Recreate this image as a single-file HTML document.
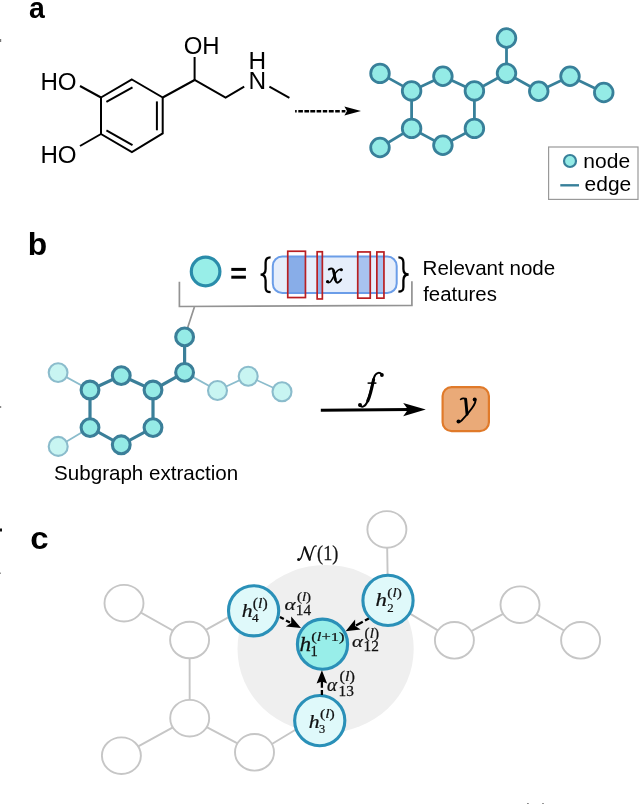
<!DOCTYPE html>
<html><head><meta charset="utf-8">
<style>
html,body{margin:0;padding:0;background:#fff;width:640px;height:804px;overflow:hidden}
svg{display:block;position:absolute;left:0;top:0;will-change:transform}
.sans{font-family:"Liberation Sans",sans-serif}
.serif{font-family:"Liberation Serif",serif}
</style></head><body>
<svg width="640" height="804" viewBox="0 0 640 804">
<defs>
<clipPath id="rr"><rect x="272.8" y="256.4" width="123.9" height="36.6" rx="9.5"/></clipPath>
</defs>
<!-- edge artifacts -->
<rect x="0" y="39" width="1.2" height="3" fill="#777"/>
<rect x="0" y="406" width="1.2" height="2" fill="#888"/>
<rect x="0" y="528.5" width="2" height="3" fill="#111"/>
<rect x="0" y="572.5" width="1" height="1.5" fill="#999"/>
<rect x="527" y="803" width="1.8" height="1" fill="#888"/>
<rect x="542" y="803" width="2" height="1" fill="#999"/>

<!-- ============ PANEL A ============ -->
<text id="m_la" transform="matrix(0.9176 0 0 0.9735 29.08 17.61)" class="sans" font-size="31" font-weight="bold">a</text>
<g stroke="#000" stroke-width="2" fill="none" stroke-linecap="butt">
  <polygon points="131.9,79.5 162.7,97.5 162.7,133.4 131.9,152 101,134 101,97.5"/>
  <line x1="106.4" y1="101.9" x2="132.5" y2="87.3"/>
  <line x1="156.9" y1="101.4" x2="156.9" y2="130.3"/>
  <line x1="106.4" y1="130.3" x2="132.5" y2="145.2"/>
  <line x1="80" y1="86" x2="101" y2="97.5"/>
  <line x1="80" y1="146" x2="101" y2="134"/>
  <polyline points="162.7,97.5 194.6,80 225.6,97.7 244.2,86.7"/>
  <line x1="194.6" y1="80" x2="194.6" y2="57"/>
  <line x1="269.4" y1="86.7" x2="289.4" y2="97.8"/>
</g>
<g class="sans" font-size="23" fill="#000">
  <text id="m_ho1" transform="matrix(1.0500 0 0 1.0765 40.40 89.88)">HO</text>
  <text id="m_ho2" transform="matrix(1.0500 0 0 1.0412 40.40 162.89)">HO</text>
  <text id="m_oh" transform="matrix(1.0406 0 0 1.03 183.76 53.6)">OH</text>
  <text id="m_nn" transform="matrix(1.0615 0 0 1.0235 248.41 89.39)">N</text>
  <text id="m_hh" transform="matrix(1.0615 0 0 1.0118 248.41 68.60)">H</text>
</g>
<!-- dashed arrow -->
<line x1="295.1" y1="111.3" x2="346" y2="111.3" stroke="#000" stroke-width="2.6" stroke-dasharray="1.6,1.6,4.6,1.5,4.7,1.2,4.9,1.4,4.6,1.6,4.4,1.6,4.9,1.5,4.6,1.9,3.7,1.9,3.7,2"/>
<path d="M361,111.1 L344.4,106.4 L347,111.1 L344.4,115.6 Z" fill="#000"/>

<!-- graph a -->
<g stroke="#38809a" stroke-width="2.8" fill="none">
  <path d="M380,73.4 L411.6,90.9 M411.6,90.9 L442.9,76.25 L474.4,90.9 L474.4,128.4 L442.9,145.25 L411.6,128.4 Z M411.6,128.4 L380,147.5 M474.4,90.9 L506.5,73.25 L506.5,38 M506.5,73.25 L538.75,91.25 L570,76.25 L603.75,92.5"/>
</g>
<g stroke="#38809a" stroke-width="2.8" fill="#94ebe6">
  <circle cx="380" cy="73.4" r="9.3"/>
  <circle cx="411.6" cy="90.9" r="9.3"/>
  <circle cx="442.9" cy="76.25" r="9.3"/>
  <circle cx="474.4" cy="90.9" r="9.3"/>
  <circle cx="474.4" cy="128.4" r="9.3"/>
  <circle cx="442.9" cy="145.25" r="9.3"/>
  <circle cx="411.6" cy="128.4" r="9.3"/>
  <circle cx="380" cy="147.5" r="9.3"/>
  <circle cx="506.5" cy="73.25" r="9.3"/>
  <circle cx="506.5" cy="38" r="9.3"/>
  <circle cx="538.75" cy="91.25" r="9.3"/>
  <circle cx="570" cy="76.25" r="9.3"/>
  <circle cx="603.75" cy="92.5" r="9.3"/>
</g>
<!-- legend -->
<rect x="548.6" y="147" width="89.4" height="52.4" fill="#fff" stroke="#999" stroke-width="1.2"/>
<circle cx="570" cy="161" r="6" fill="#94ebe6" stroke="#38809a" stroke-width="2.2"/>
<line x1="560.3" y1="185.3" x2="579" y2="185.3" stroke="#38809a" stroke-width="2.4"/>
<text id="m_node" transform="matrix(1.0250 0 0 0.9733 583.37 167.80)" class="sans" font-size="20.5">node</text>
<text id="m_edge" transform="matrix(1.0227 0 0 1.0211 584.58 190.81)" class="sans" font-size="20.5">edge</text>

<!-- ============ PANEL B ============ -->
<text id="m_lb2" transform="matrix(1.0250 0 0 1.0043 27.75 255.40)" class="sans" font-size="31" font-weight="bold">b</text>
<circle cx="205.6" cy="271.5" r="14.3" fill="#98eee8" stroke="#2a8caa" stroke-width="3.2"/>
<rect x="231.3" y="267.9" width="14.6" height="3" fill="#000"/><rect x="231.3" y="275.7" width="14.6" height="3" fill="#000"/>
<path id="m_lb" d="M270.6,257.4 C266.8,257.4 265.6,259 265.6,262.5 L265.6,269 C265.6,272.8 263.8,274.6 260.6,274.7 C263.8,274.8 265.6,276.6 265.6,280.5 L265.6,287.5 C265.6,291 266.8,292.2 270.6,292.2" fill="none" stroke="#000" stroke-width="2.3"/>
<rect x="272.8" y="256.4" width="123.9" height="36.6" rx="9.5" fill="#e6eefb"/>
<g clip-path="url(#rr)">
  <rect x="287.75" y="250" width="17.7" height="48" fill="#88ade8"/>
  <rect x="317.15" y="250" width="5.2" height="49" fill="#8fb3ea"/>
  <rect x="357.75" y="250" width="12.5" height="48" fill="#a8c3ef"/>
  <rect x="376.85" y="250" width="7.1" height="48" fill="#a9c4f0"/>
</g>
<rect x="272.8" y="256.4" width="123.9" height="36.6" rx="9.5" fill="none" stroke="#6b9de8" stroke-width="2"/>
<g fill="none" stroke="#b91f22" stroke-width="1.7">
  <rect x="287.75" y="251.25" width="17.7" height="46.3"/>
  <rect x="317.15" y="251.75" width="5.2" height="47.2"/>
  <rect x="357.75" y="251.95" width="12.5" height="46.2"/>
  <rect x="376.85" y="251.95" width="7.1" height="46.2"/>
</g>
<g id="m_x" fill="none" stroke="#000" stroke-linecap="round">
  <path d="M328.9,269.4 C330.6,268.2 332.6,267.9 333.4,269.8 C334.5,272.5 334.8,278 335.8,281.2 C336.6,283.4 339,283.2 341.1,279.5" stroke-width="2.1"/>
  <path d="M333.6,271 C334.3,274 334.6,277 335.3,279.5" stroke-width="2.8"/>
  <path d="M341.6,269.4 C339.6,268.8 337.4,270.4 335.6,272.9 C333.6,276.2 331.6,281.4 329.6,282.4 C328.6,282.9 327.6,282.6 327,282" stroke-width="1.5"/>
  <circle cx="341.4" cy="269.8" r="1.5" fill="#000" stroke="none"/>
  <circle cx="327.6" cy="281.5" r="1.6" fill="#000" stroke="none"/>
</g>
<path id="m_rb" d="M398.4,257.4 C402.2,257.4 403.4,259 403.4,262.5 L403.4,269 C403.4,272.8 405.2,274.4 408.6,274.5 C405.2,274.6 403.4,276.4 403.4,280.3 L403.4,287 C403.4,290.5 402.2,291.6 398.4,291.6" fill="none" stroke="#000" stroke-width="2.3"/>
<path d="M179.4,281.7 V306.5 L411.9,305.4 V281.2 M194.4,307 L184.6,337" fill="none" stroke="#939393" stroke-width="1.7"/>
<text id="m_rel" transform="matrix(1.0291 0 0 1.0333 422.56 275.44)" class="sans" font-size="20">Relevant node</text>
<text id="m_feat" transform="matrix(1.0208 0 0 0.9867 423.20 300.80)" class="sans" font-size="20">features</text>

<!-- graph b -->
<g stroke="#8bbccc" stroke-width="1.8" fill="none">
  <path d="M58.1,372.6 L90,390 M90,427.6 L58.2,446.4 M184.6,372.4 L217.5,390.5 L248.2,376.2 L282,391.8"/>
</g>
<g stroke="#8bbccc" stroke-width="2.1" fill="#c8f5f2">
  <circle cx="58.1" cy="372.6" r="9.4"/>
  <circle cx="58.2" cy="446.4" r="9.5"/>
  <circle cx="217.5" cy="390.5" r="9.5"/>
  <circle cx="248.2" cy="376.2" r="9.5"/>
  <circle cx="282" cy="391.8" r="9.5"/>
</g>
<g stroke="#3b7f99" stroke-width="3.2" fill="none">
  <path d="M90,390 L121.25,375.6 L153,390 L153,427.6 L121.25,444.8 L90,427.6 Z M153,390 L184.6,372.4 L184.6,336.9"/>
</g>
<g stroke="#3b7f99" stroke-width="3.1" fill="#95ebe6">
  <circle cx="90" cy="390" r="8.9"/>
  <circle cx="121.25" cy="375.6" r="8.9"/>
  <circle cx="153" cy="390" r="8.9"/>
  <circle cx="90" cy="427.6" r="8.9"/>
  <circle cx="121.25" cy="444.8" r="8.9"/>
  <circle cx="153" cy="427.6" r="8.9"/>
  <circle cx="184.6" cy="372.4" r="8.9"/>
  <circle cx="184.6" cy="336.9" r="8.9"/>
</g>
<text id="m_sub" transform="matrix(1.029 0 0 1 54.1 479.5)" class="sans" font-size="20">Subgraph extraction</text>
<!-- f arrow -->
<line x1="320.8" y1="410.2" x2="410" y2="409.5" stroke="#000" stroke-width="2.9"/>
<path d="M425.8,409.5 L403.2,402.9 L408,409.5 L403.2,416.3 Z" fill="#000"/>
<g id="m_f" fill="none" stroke="#000" stroke-linecap="round">
  <path d="M381.8,374.4 C379.4,371.6 375.6,372.6 374,377.6 C372,384.5 370,396 367,402.5 C365,406.6 362.2,407.8 359.8,405.6" stroke-width="2"/>
  <path d="M373.6,379.5 C372.2,386.5 370.4,395.5 367.8,400.8" stroke-width="3.1"/>
  <path d="M367.6,383.1 L376.4,383.1" stroke-width="1.5" stroke-linecap="butt"/>
  <circle cx="381.9" cy="375" r="1.9" fill="#000" stroke="none"/>
  <circle cx="360" cy="405" r="2" fill="#000" stroke="none"/>
</g>
<rect x="442.6" y="387.1" width="46.3" height="44.1" rx="9" fill="#eaaa78" stroke="#e07a2a" stroke-width="2.2"/>
<g id="m_y" fill="none" stroke="#000" stroke-linecap="round">
  <path d="M460.6,399.4 C462.2,398.3 464.6,397.8 465.6,399.3" stroke-width="1.6"/>
  <path d="M465.6,399.2 C466.2,403.5 466.5,409.5 467.1,414.2" stroke-width="2.9"/>
  <path d="M475.2,399.6 C476.2,401.5 474.6,404.5 471.9,408.2 C469.2,412 464,418 461.5,420.6 C460.2,421.9 459,422.3 458,422" stroke-width="1.9"/>
  <circle cx="474.7" cy="399.4" r="2" fill="#000" stroke="none"/>
  <circle cx="458.5" cy="421.6" r="2" fill="#000" stroke="none"/>
</g>

<!-- ============ PANEL C ============ -->
<text id="m_lc" transform="matrix(1.0633 0 0 1.0176 30.19 548.99)" class="sans" font-size="31" font-weight="bold">c</text>
<ellipse cx="325.6" cy="649" rx="88.1" ry="84" fill="#efefef"/>
<g stroke="#c6c6c6" stroke-width="1.9" fill="none">
  <path d="M124,603.2 L189.6,640 M189.6,638.8 L240,610.8 M189.6,640 L189.7,718.2 L121.4,755.7 M189.7,718.2 L254.5,752.3 M254.5,754.5 L305,724 M386.9,529.4 L388,600.4 L454.4,640.3 L520,604.7 L580.6,640.3"/>
</g>
<g stroke="#c6c6c6" stroke-width="1.9" fill="#fff">
  <ellipse cx="124" cy="603.2" rx="19.5" ry="18.3"/>
  <ellipse cx="189.6" cy="640" rx="19.5" ry="18.3"/>
  <ellipse cx="189.7" cy="718.2" rx="19.5" ry="18.3"/>
  <ellipse cx="121.4" cy="755.7" rx="19.5" ry="18.3"/>
  <ellipse cx="254.5" cy="752.3" rx="19.5" ry="18.3"/>
  <ellipse cx="386.9" cy="529.4" rx="19.5" ry="18.3"/>
  <ellipse cx="454.4" cy="640.3" rx="19.5" ry="18.3"/>
  <ellipse cx="520" cy="604.7" rx="19.5" ry="18.3"/>
  <ellipse cx="580.6" cy="640.3" rx="19.5" ry="18.3"/>
</g>
<g stroke="#2a90b8" stroke-width="3.1">
  <circle cx="253.6" cy="610.8" r="25.1" fill="#dff9fa"/>
  <circle cx="388" cy="600.4" r="25.1" fill="#dff9fa"/>
  <circle cx="319.75" cy="720.6" r="25.1" fill="#dff9fa"/>
  <circle cx="322.5" cy="644.2" r="25.1" fill="#98eee9"/>
</g>
<!-- dashed arrows -->
<g stroke="#000" stroke-width="2.3" fill="none">
  <path d="M279.9,617 L283.8,619.1 M286,620.5 L290,622.6"/>
  <path d="M368.8,618.4 L365,620.5 M362.8,621.8 L356,625.6"/>
  <path d="M321.9,695 L321.9,689.9 M321.9,687.7 L321.9,676"/>
</g>
<g fill="#000">
  <path id="m_ar1" d="M301,628 L291.2,616.5 L291.2,622.9 L285.9,626.6 Z"/>
  <path id="m_ar2" d="M345.6,631.3 L355.1,619.5 L355.2,626 L360.6,629.5 Z"/>
  <path id="m_ar3" d="M321.9,670.2 L327.1,683.5 L321.9,681.5 L316.6,683.5 Z"/>
</g>
<g class="serif" fill="#111" stroke="#111" stroke-width="0.25">
  <text id="m_h4" transform="matrix(1.0811 0 0 0.9286 241.66 617.20)" font-size="20" font-style="italic">h</text>
  <text id="m_s4" transform="matrix(0.9436 0 0 0.8691 252.12 621.58)" font-size="14">4</text>
  <text id="m_p4" transform="matrix(1.0433 0 0 0.9921 252.80 608.29)" font-size="15">(<tspan font-style="italic">l</tspan>)</text>

  <text id="m_h2" transform="matrix(1.1378 0 0 0.9719 375.40 606.19)" font-size="20" font-style="italic">h</text>
  <text id="m_s2" transform="matrix(0.9152 0 0 0.8611 387.20 611.81)" font-size="14">2</text>
  <text id="m_p2" transform="matrix(1.0195 0 0 0.8919 387.27 597.33)" font-size="15">(<tspan font-style="italic">l</tspan>)</text>

  <text id="m_h3" transform="matrix(1.0811 0 0 0.9286 308.85 727.57)" font-size="20" font-style="italic">h</text>
  <text id="m_s3" transform="matrix(0.8860 0 0 0.9461 318.93 732.83)" font-size="14">3</text>
  <text id="m_p3" transform="matrix(1.0433 0 0 0.8985 320.00 718.12)" font-size="15">(<tspan font-style="italic">l</tspan>)</text>

  <text id="m_h1" transform="matrix(1.1616 0 0 1.0014 299.59 650.87)" font-size="20" font-style="italic">h</text>
  <text id="m_s1" transform="matrix(1.0404 0 0 1.0811 310.44 656.33)" font-size="14">1</text>
  <text id="m_p1" transform="matrix(1.1035 0 0 0.8788 311.30 641.00)" font-size="15">(<tspan font-style="italic">l</tspan>+1)</text>

  <text id="m_a14" transform="matrix(1.0603 0 0 0.8820 284.47 610.21)" font-size="20" font-style="italic">α</text>
  <text id="m_s14" transform="matrix(1.0945 0 0 1.0811 295.77 614.81)" font-size="14">14</text>
  <text id="m_p14" transform="matrix(1.0051 0 0 0.8642 296.88 601.12)" font-size="15">(<tspan font-style="italic">l</tspan>)</text>

  <text id="m_a12" transform="matrix(1.0367 0 0 0.8801 351.88 646.58)" font-size="20" font-style="italic">α</text>
  <text id="m_s12" transform="matrix(1.0945 0 0 1.0000 363.49 651.00)" font-size="14">12</text>
  <text id="m_p12" transform="matrix(1.0143 0 0 0.9485 364.60 637.54)" font-size="15">(<tspan font-style="italic">l</tspan>)</text>

  <text id="m_a13" transform="matrix(0.9639 0 0 0.9031 326.92 690.59)" font-size="20" font-style="italic">α</text>
  <text id="m_s13" transform="matrix(1.0945 0 0 1.1045 338.49 695.86)" font-size="14">13</text>
  <text id="m_p13" transform="matrix(1.0876 0 0 0.9343 339.59 680.50)" font-size="15">(<tspan font-style="italic">l</tspan>)</text>

  <text id="m_n1" transform="matrix(0.9097 0 0 1.0482 317.09 560.32)" font-size="20">(1)</text>
</g>
<!-- calligraphic N -->
<g id="m_N" fill="none" stroke="#111" stroke-linecap="round">
  <path d="M298.4,559.6 C300.6,560.4 301.6,557 302.6,553.5 C303.4,550.5 303.9,548 304.7,547.3" stroke-width="1.3"/>
  <path d="M304.8,547.4 L309.6,559.6" stroke-width="2.3"/>
  <path d="M309.6,559.8 C311,555 312.4,549.6 313.5,547.6 C314.2,546.3 315.1,545.8 316.1,546" stroke-width="1.3"/>
  <circle cx="298.6" cy="559.4" r="1.5" fill="#111" stroke="none"/>
</g>
</svg>
</body></html>
